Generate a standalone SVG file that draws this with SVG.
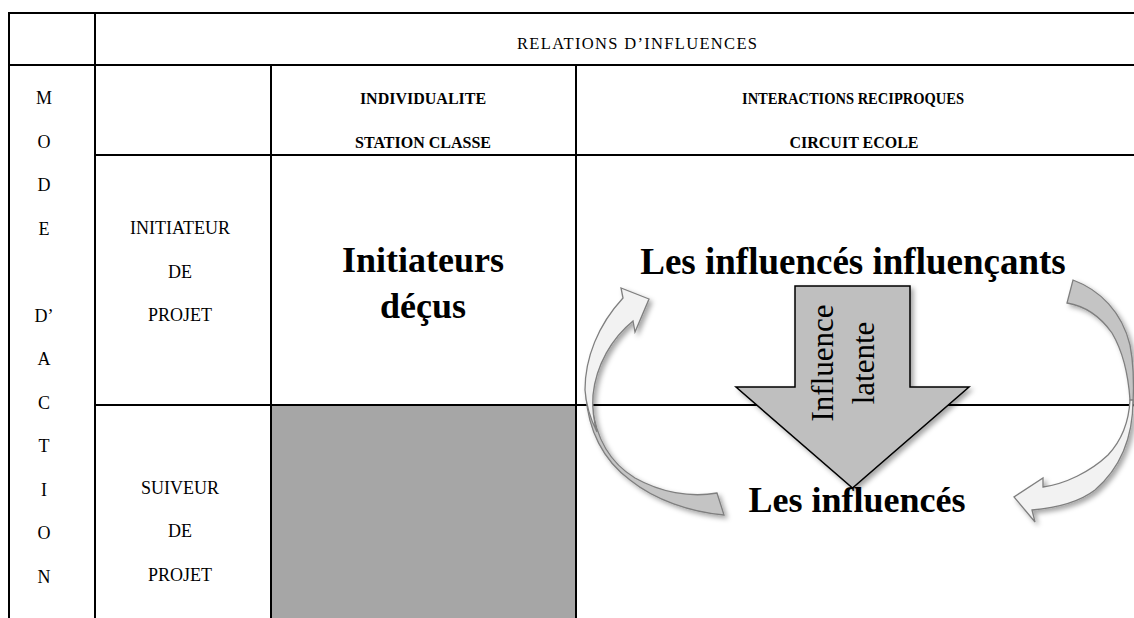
<svg xmlns="http://www.w3.org/2000/svg" width="1134" height="618" viewBox="0 0 1134 618">
<style>
  text { font-family: "Liberation Serif", "Times New Roman", serif; fill: #000; }
  .grid { stroke: #000; stroke-width: 2; fill: none; }
  .lbl { font-size: 18px; text-anchor: middle; }
  .hdr { font-size: 16px; font-weight: bold; text-anchor: middle; }
  .big { font-size: 36px; font-weight: bold; text-anchor: middle; }
  .vert { font-size: 18px; text-anchor: middle; }
  .rot { font-size: 31px; text-anchor: middle; }
  .front { fill: #f2f2f2; stroke: #7f7f7f; stroke-width: 1.3; }
  .back { fill: #c4c4c4; stroke: #7f7f7f; stroke-width: 1.3; }
</style>
<defs>
  <filter id="sh" x="-20%" y="-20%" width="150%" height="150%">
    <feDropShadow dx="3" dy="3" stdDeviation="2.5" flood-color="#000" flood-opacity="0.35"/>
  </filter>
</defs>
<rect x="0" y="0" width="1134" height="618" fill="#fff"/>

<g id="table">
  <rect x="271" y="405" width="305" height="213" fill="#a6a6a6"/>
  <line class="grid" x1="8" y1="13" x2="1134" y2="13"/>
  <line class="grid" x1="9" y1="12" x2="9" y2="618"/>
  <line class="grid" x1="95" y1="12" x2="95" y2="618"/>
  <line class="grid" x1="8" y1="65" x2="1134" y2="65"/>
  <line class="grid" x1="271" y1="65" x2="271" y2="618"/>
  <line class="grid" x1="576" y1="65" x2="576" y2="618"/>
  <line class="grid" x1="95" y1="155" x2="1134" y2="155"/>
  <line class="grid" x1="95" y1="405" x2="1134" y2="405"/>
</g>

<g id="headers">
  <text x="637" y="49" style="font-size:16.5px" text-anchor="middle" textLength="240">RELATIONS D’INFLUENCES</text>
  <text class="hdr" x="423" y="104">INDIVIDUALITE</text>
  <text class="hdr" x="423" y="148">STATION CLASSE</text>
  <text class="hdr" x="853" y="104" textLength="222" lengthAdjust="spacingAndGlyphs">INTERACTIONS RECIPROQUES</text>
  <text class="hdr" x="854" y="148">CIRCUIT ECOLE</text>
</g>

<g id="mode-action">
  <text class="vert" x="44" y="104">M</text>
  <text class="vert" x="44" y="148">O</text>
  <text class="vert" x="44" y="191">D</text>
  <text class="vert" x="44" y="235">E</text>
  <text class="vert" x="44" y="322">D’</text>
  <text class="vert" x="44" y="365">A</text>
  <text class="vert" x="44" y="409">C</text>
  <text class="vert" x="44" y="452">T</text>
  <text class="vert" x="44" y="496">I</text>
  <text class="vert" x="44" y="539">O</text>
  <text class="vert" x="44" y="583">N</text>
</g>

<g id="initiateur">
  <text class="lbl" x="180" y="234">INITIATEUR</text>
  <text class="lbl" x="180" y="278">DE</text>
  <text class="lbl" x="180" y="321">PROJET</text>
</g>
<g id="suiveur">
  <text class="lbl" x="180" y="494">SUIVEUR</text>
  <text class="lbl" x="180" y="537">DE</text>
  <text class="lbl" x="180" y="581">PROJET</text>
</g>

<g id="initiateurs-decus">
  <text class="big" x="423" y="272">Initiateurs</text>
  <text class="big" x="423" y="318">déçus</text>
</g>

<g id="influences-influencants">
  <text class="big" x="853" y="274" style="font-size:37px">Les influencés influençants</text>
</g>
<g id="influences">
  <text class="big" x="857" y="512">Les influencés</text>
</g>

<g id="connectors">
  <g id="influence-latente">
    <path d="M795,286 L910,286 L910,387 L969,387 L852.5,488 L736,387 L795,387 Z" fill="#bfbfbf" stroke="#000" stroke-width="1.5" filter="url(#sh)"/>
    <text class="rot" transform="translate(833,363) rotate(-90)">Influence</text>
    <text class="rot" transform="translate(874,363) rotate(-90)">latente</text>
  </g>
  <g id="left-loop" filter="url(#sh)">
    <path class="back" d="M586,395 C588,430 603,460 630,480 C655,500 690,512 724,515 L717,493 C690,498 660,492 635,478 C612,464 596,440 592,405 Z"/>
    <path class="front" d="M623,298 L621,288 L649,299 L635,332 L633,321 C612,338 596,365 593,395 C592,410 594,422 597,432 C590,418 586,405 585,390 C585,358 598,325 623,298 Z"/>
  </g>
  <g id="right-loop" filter="url(#sh)">
    <path class="back" d="M1073,280 C1100,290 1122,312 1130,345 C1134,365 1134,385 1133,405 L1130,400 C1128,370 1122,350 1112,333 C1100,316 1085,306 1067,303 Z"/>
    <path class="front" d="M1133,400 C1133,440 1118,470 1095,490 C1078,503 1055,508 1032,510 L1035,522 L1014,497 L1043,478 L1043,487 C1065,484 1090,472 1108,455 C1122,440 1129,420 1130,400 Z"/>
  </g>
</g>
</svg>
